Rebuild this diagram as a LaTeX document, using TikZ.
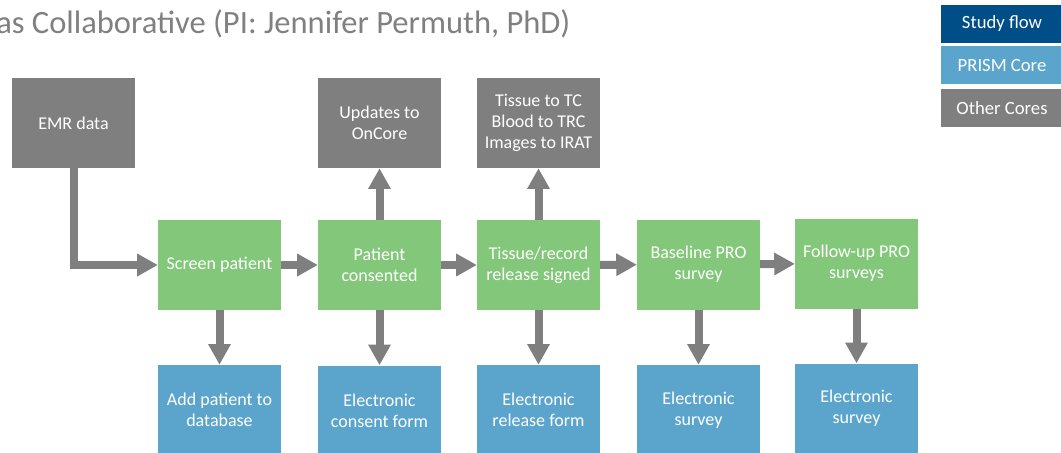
\documentclass[tikz,border=0pt]{standalone}
\usepackage{fontspec}
\setmainfont{Carlito}
\usetikzlibrary{arrows.meta}
\definecolor{boxgray}{RGB}{127,127,127}
\definecolor{boxgreen}{RGB}{131,199,122}
\definecolor{boxblue}{RGB}{91,165,205}
\definecolor{flowblue}{RGB}{0,78,135}
\definecolor{titlegray}{RGB}{128,128,128}
\begin{document}
\begin{tikzpicture}[x=0.75pt,y=-0.75pt,
    box/.style={minimum width=92pt,minimum height=67.5pt,inner sep=1pt,
      text=white,align=center,font=\fontsize{13.5}{16}\selectfont},
    other/.style={box,fill=boxgray},
    study/.style={box,fill=boxgreen},
    prism/.style={box,fill=boxblue},
    legend/.style={minimum width=91pt,minimum height=28.5pt,inner sep=0pt,
      text=white,font=\fontsize{14}{16}\selectfont},
    flow/.style={draw=boxgray,line width=6pt,
      -{Triangle[width=16pt,length=15.5pt]}}]
  \clip (0,0) rectangle (1061,453);
  \useasboundingbox (0,0) rectangle (1061,453);
  \node[anchor=base west,text=titlegray,inner sep=0pt,font=\fontsize{24.4}{28}\selectfont]
    (title) at (-4,34) {as Collaborative (PI: Jennifer Permuth, PhD)};
  % legend
  \node[legend,fill=flowblue] (lflow) at (1002,24) {Study flow};
  \node[legend,fill=boxblue] (lprism) at (1002,65.5) {PRISM Core};
  \node[legend,fill=boxgray] (lother) at (1002,108) {Other Cores};
  % boxes
  \draw
    (73.5,123) node[other] (emr) {EMR data}
    (379.5,123) node[other] (oncore) {Updates to\\OnCore}
    (538.5,123) node[other] (cores) {Tissue to TC\\Blood to TRC\\Images to IRAT}
    (219.5,265) node[study] (screen) {Screen patient}
    (379.5,265) node[study] (consent) {Patient\\consented}
    (538.5,265) node[study] (release) {Tissue/record\\release signed}
    (698.5,264.5) node[study] (baseline) {Baseline PRO\\survey}
    (856.5,263.5) node[study] (followup) {Follow-up PRO\\surveys}
    (219.5,410) node[prism] (addpt) {Add patient to\\database}
    (379.5,410.5) node[prism] (econsent) {Electronic\\consent form}
    (538.5,410) node[prism] (erelease) {Electronic\\release form}
    (698.5,410) node[prism] (esurvey) {Electronic\\survey}
    (856.5,408.5) node[prism] (efollow) {Electronic\\survey};
  \begin{scope}[flow]
    \draw[line join=miter] (emr.south) |- (screen.west);
    \draw (screen) to (consent);
    \draw (consent) to (release);
    \draw (release) to (baseline);
    \draw (baseline) to (followup);
    \draw (consent) to (oncore);
    \draw (release) to (cores);
    \draw (screen) to (addpt);
    \draw (consent) to (econsent);
    \draw (release) to (erelease);
    \draw (baseline) to (esurvey);
    \draw (followup) to (efollow);
  \end{scope}
\end{tikzpicture}
\end{document}
